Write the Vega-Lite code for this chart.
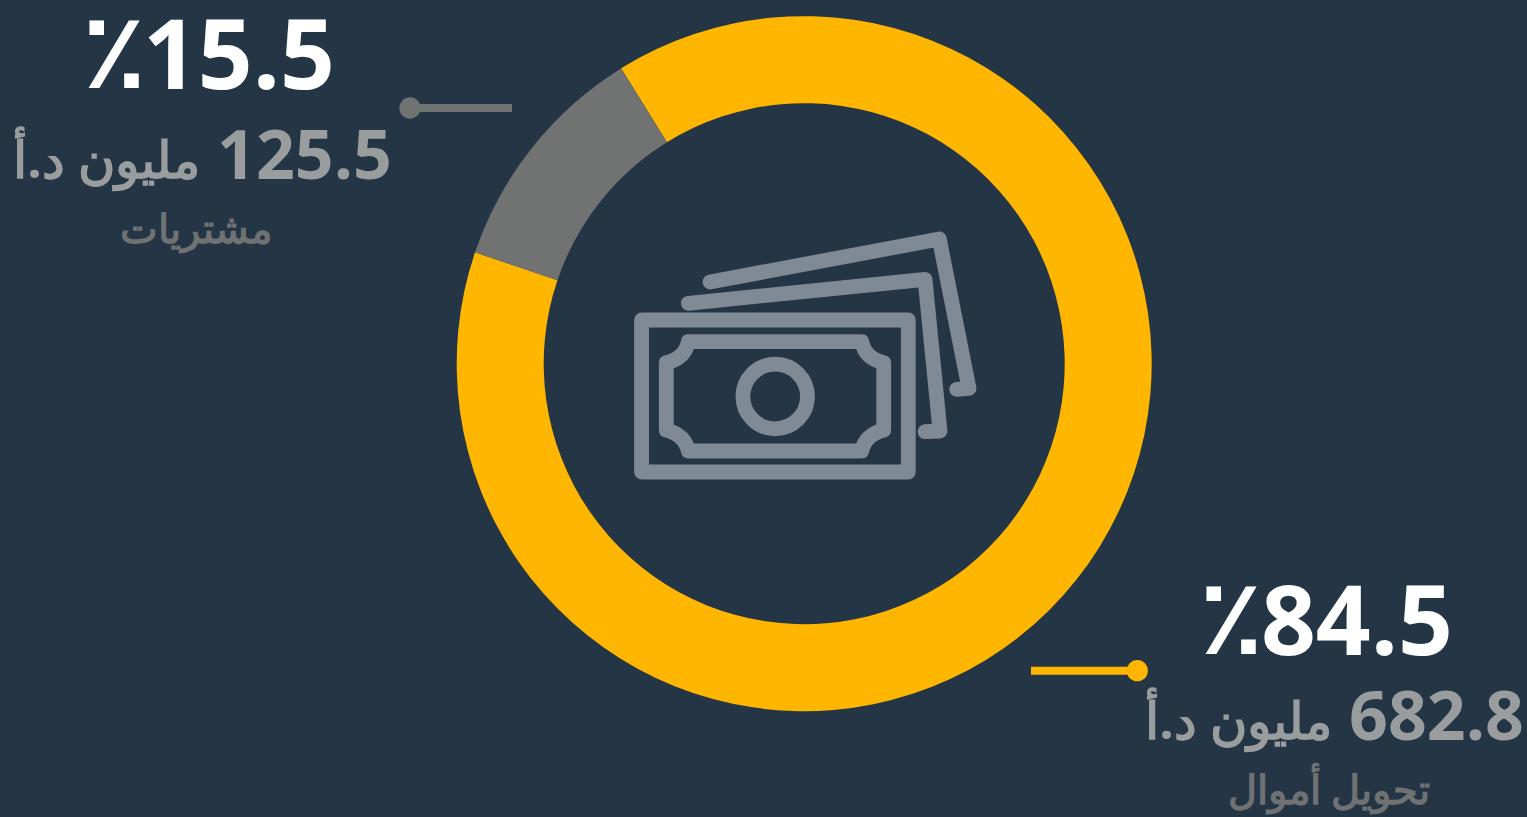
{
"$schema":"https://vega.github.io/schema/vega-lite/v6.json",
"width":1527,"height":817,
"autosize":"none",
"padding":0,
"background":"#243646",
"config":{"view":{"stroke":null}},
"data":{"values":[
{"category":"تحويل أموال","arc_degrees":320.5,"share":"84.5","amount":"682.8","unit":"مليون د.أ"},
{"category":"مشتريات","arc_degrees":39.5,"share":"15.5","amount":"125.5","unit":"مليون د.أ"}
]},
"resolve":{"scale":{"x":"independent","y":"independent"}},
"layer":[
{"mark":{"type":"arc","radius":347.5,"radius2":260.5},
 "encoding":{
  "theta":{"field":"arc_degrees","type":"quantitative","stack":true,"scale":{"range":[-0.555,5.728]}},
  "order":{"field":"arc_degrees","sort":"descending"},
  "color":{"field":"category","type":"nominal","legend":null,"scale":{"domain":["تحويل أموال","مشتريات"],"range":["#FFB600","#717372"]}},
  "x":{"value":804.2},"y":{"value":363.7}}},
{"data":{"values":[{"icon":"banknotes"}]},
 "mark":{"type":"point","filled":false,"opacity":1,"stroke":"#7F8A94","strokeWidth":14.8,"strokeCap":"round","strokeJoin":"round","size":4,
  "shape":"M-162.4 -43H104.3V109H-162.4ZM-115.7 -21.3H57.7Q61 -4.7 79.7 -0.3V67Q61 72 57.7 88H-115.7Q-119 72 -137.7 67V-0.3Q-119 -4.7 -115.7 -21.3ZM-61.1 33.5A32.3 32.3 0 1 0 3.5 33.5A32.3 32.3 0 1 0 -61.1 33.5ZM-115.7 -59.7L121 -83.7L136 68L121 68.7M-94 -81L135.3 -124L165 25.3L152.7 26.3"},
 "encoding":{"x":{"value":804},"y":{"value":363}}},
{"mark":{"type":"tick","orient":"horizontal","size":104,"thickness":8,"opacity":1},
 "encoding":{
  "x":{"field":"category","type":"nominal","axis":null,"scale":{"type":"point","padding":0,"domain":["مشتريات","تحويل أموال"],"range":[460,1083]}},
  "y":{"field":"category","type":"nominal","axis":null,"scale":{"type":"point","padding":0,"domain":["مشتريات","تحويل أموال"],"range":[108,670.7]}},
  "color":{"field":"category","type":"nominal","legend":null}}},
{"mark":{"type":"circle","size":452,"opacity":1},
 "encoding":{
  "x":{"field":"category","type":"nominal","axis":null,"scale":{"type":"point","padding":0,"domain":["مشتريات","تحويل أموال"],"range":[410,1137.3]}},
  "y":{"field":"category","type":"nominal","axis":null,"scale":{"type":"point","padding":0,"domain":["مشتريات","تحويل أموال"],"range":[108,670.7]}},
  "color":{"field":"category","type":"nominal","legend":null}}},
{"mark":{"type":"text","font":"Open Sans","fontWeight":"bold","fontSize":96,"color":"#FFFFFF","align":"right","baseline":"alphabetic"},
 "encoding":{
  "text":{"field":"share"},
  "x":{"field":"category","type":"nominal","axis":null,"scale":{"type":"point","padding":0,"domain":["مشتريات","تحويل أموال"],"range":[335,1453]}},
  "y":{"field":"category","type":"nominal","axis":null,"scale":{"type":"point","padding":0,"domain":["مشتريات","تحويل أموال"],"range":[89,655]}}}},
{"mark":{"type":"text","font":"DejaVu Sans","fontWeight":"bold","fontSize":106,"color":"#FFFFFF","align":"center","baseline":"alphabetic"},
 "encoding":{
  "text":{"value":"٪"},
  "x":{"field":"category","type":"nominal","axis":null,"scale":{"type":"point","padding":0,"domain":["مشتريات","تحويل أموال"],"range":[114,1231]}},
  "y":{"field":"category","type":"nominal","axis":null,"scale":{"type":"point","padding":0,"domain":["مشتريات","تحويل أموال"],"range":[88,654]}}}},
{"mark":{"type":"text","font":"Open Sans","fontWeight":"bold","fontSize":68,"color":"#9A9D9E","align":"right","baseline":"alphabetic"},
 "encoding":{
  "text":{"field":"amount"},
  "x":{"field":"category","type":"nominal","axis":null,"scale":{"type":"point","padding":0,"domain":["مشتريات","تحويل أموال"],"range":[392,1524]}},
  "y":{"field":"category","type":"nominal","axis":null,"scale":{"type":"point","padding":0,"domain":["مشتريات","تحويل أموال"],"range":[179,740]}}}},
{"mark":{"type":"text","font":"Open Sans","fontWeight":"bold","fontSize":51,"color":"#9A9D9E","align":"right","baseline":"alphabetic"},
 "encoding":{
  "text":{"field":"unit"},
  "x":{"field":"category","type":"nominal","axis":null,"scale":{"type":"point","padding":0,"domain":["مشتريات","تحويل أموال"],"range":[200,1332]}},
  "y":{"field":"category","type":"nominal","axis":null,"scale":{"type":"point","padding":0,"domain":["مشتريات","تحويل أموال"],"range":[178,739]}}}},
{"mark":{"type":"text","font":"Open Sans","fontWeight":"bold","fontSize":40,"color":"#6F7172","align":"center","baseline":"alphabetic"},
 "encoding":{
  "text":{"field":"category"},
  "x":{"field":"category","type":"nominal","axis":null,"scale":{"type":"point","padding":0,"domain":["مشتريات","تحويل أموال"],"range":[196,1329]}},
  "y":{"field":"category","type":"nominal","axis":null,"scale":{"type":"point","padding":0,"domain":["مشتريات","تحويل أموال"],"range":[243,804]}}}}
]
}
